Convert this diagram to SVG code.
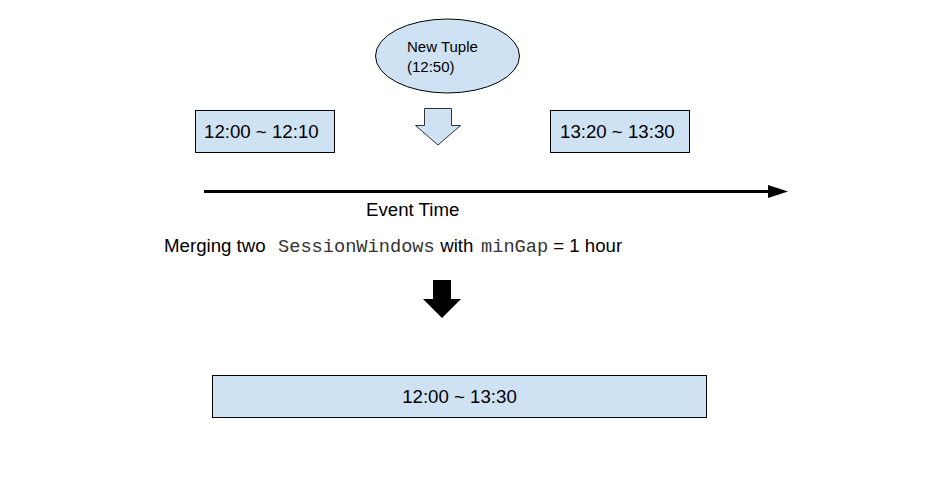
<svg xmlns="http://www.w3.org/2000/svg" width="939" height="481" viewBox="0 0 939 481">
<style>
.box{fill:#cfe2f3;stroke:#000;stroke-width:1}
.t{font-family:"Liberation Sans",Arial,sans-serif;font-size:18.67px;fill:#000}
.s{font-family:"Liberation Sans",Arial,sans-serif;font-size:15px;fill:#000}
.m{font-family:"Liberation Mono","Courier New",monospace;font-size:18.67px;fill:#333}
</style>
<rect width="939" height="481" fill="#fff"/>
<g id="new-tuple">
<ellipse class="box" cx="447.5" cy="56" rx="72" ry="37"/>
<text class="s" x="407" y="52">New Tuple</text>
<text class="s" x="407" y="72">(12:50)</text>
</g>
<g id="window-1">
<rect class="box" x="195.5" y="110.5" width="139" height="42"/>
<text class="t" x="204" y="138">12:00 ~ 12:10</text>
</g>
<g id="window-2">
<rect class="box" x="550.5" y="110.5" width="139" height="42"/>
<text class="t" x="560" y="138">13:20 ~ 13:30</text>
</g>
<g id="merged-window">
<rect class="box" x="212.5" y="375.5" width="494" height="42"/>
<text class="t" x="459.5" y="403" text-anchor="middle">12:00 ~ 13:30</text>
</g>
<g id="connectors">
<polygon points="424.5,108.5 451.5,108.5 451.5,125.5 460.5,125.5 438,145 415.5,125.5 424.5,125.5" fill="#cfe2f3" stroke="#333" stroke-width="1"/>
<line x1="204" y1="191.5" x2="770" y2="191.5" stroke="#000" stroke-width="3"/>
<polygon points="768,185 788,191.5 768,198" fill="#000"/>
<polygon points="433,280 451,280 451,299 461,299 442,318 423,299 433,299" fill="#000"/>
</g>
<g id="labels">
<text class="t" x="366" y="216">Event Time</text>
<text class="t" x="164" y="252">Merging two<tspan class="m" x="278">SessionWindows</tspan><tspan x="435"> with </tspan><tspan class="m" x="481">minGap</tspan><tspan x="548"> = 1 hour</tspan></text>
</g>
</svg>
